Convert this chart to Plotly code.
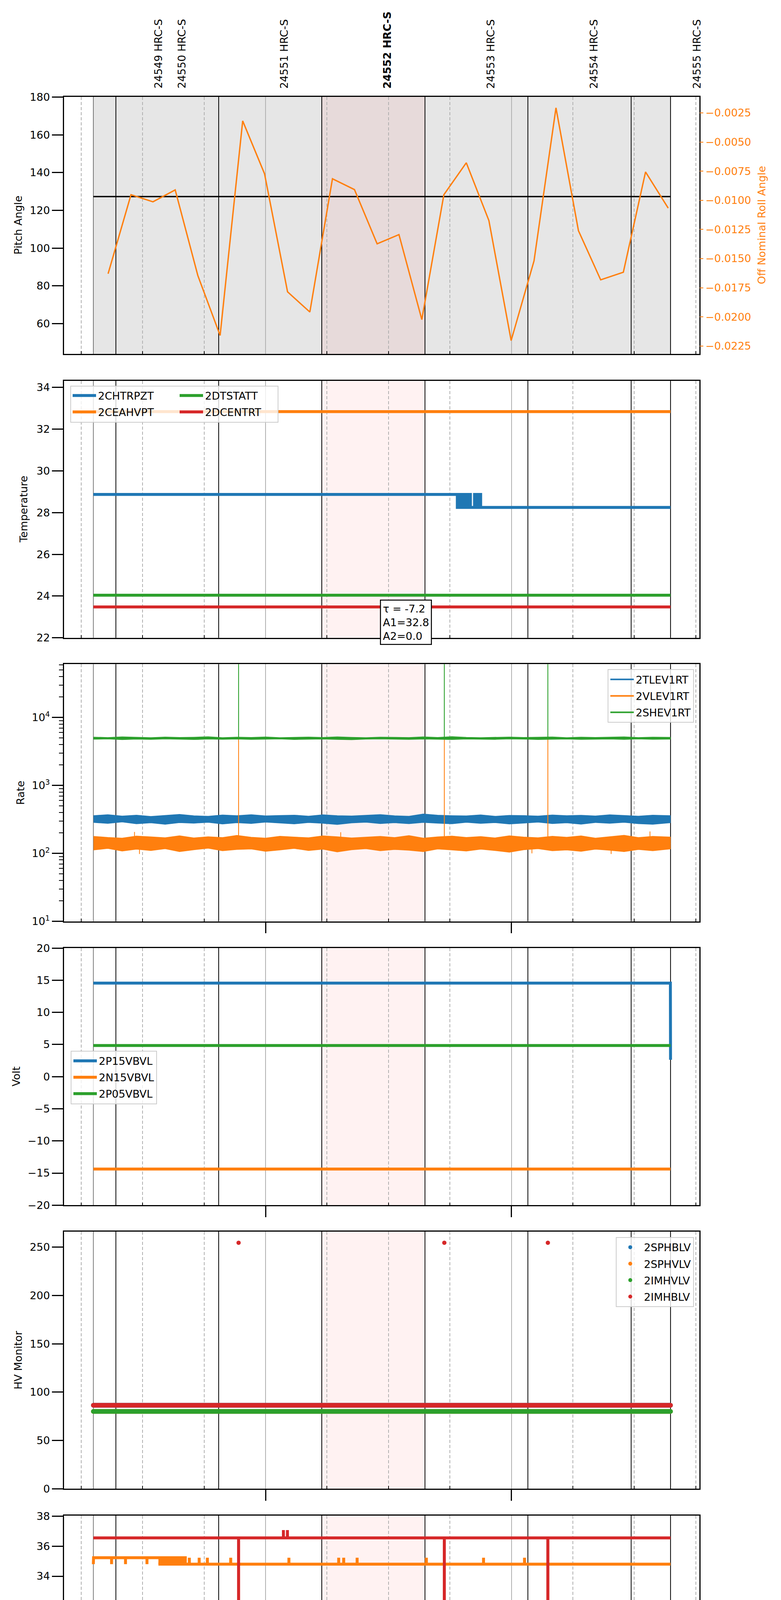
import plotly.graph_objects as go

# ------------------------------------------------------------------ data
# x values are minutes from 2021-09-09 00:00 (negative = 2021-09-08)
x_span = [-49.18, 105.88]
t_start, t_end = -42.03, 98.84
obs_edges = [-42.03, -36.53, -11.44, 13.72, 38.91, 64.02, 89.23, 98.84]
focus_span = [13.72, 38.91]
obs_label_t = [-26.15, -20.43, 4.60, 29.76, 54.93, 80.09, 105.25]
obs_label = ["24549 HRC-S", "24550 HRC-S", "24551 HRC-S", "24552 HRC-S",
             "24553 HRC-S", "24554 HRC-S", "24555 HRC-S"]
focus_obsid = "24552 HRC-S"
glitch_t = [-6.58, 43.63, 68.90]

major_t = [0, 60]
major_txt = ["00h", "01h"]
minor_t = [-45, -30, -15, 15, 30, 45, 75, 90, 105]
minor_txt = ["15", "30", "45", "15", "30", "45", "15", "30", "45"]
date_label = "2021-09-09 (252)"

# panel 1: pitch / off nominal roll
pitch_t = [t_start, t_end]
pitch = [127.3, 127.3]
roll_t = [-38.43, -32.84, -27.48, -22.05, -16.53, -11.09, -5.58, -0.25, 5.37,
          10.81, 16.33, 21.70, 27.23, 32.56, 38.14, 43.52, 48.99, 54.51, 59.94,
          65.52, 70.88, 76.36, 81.79, 87.32, 92.74, 98.27]
roll = [-0.0163, -0.00952, -0.01013, -0.00911, -0.01645, -0.02159, -0.00319,
        -0.00772, -0.01785, -0.01958, -0.00815, -0.00908, -0.01373, -0.01294,
        -0.02023, -0.00952, -0.00678, -0.01174, -0.02203, -0.0152, -0.00207,
        -0.0126, -0.01682, -0.01617, -0.00757, -0.01067]

# panel 2: temperature
chtrpzt_t = [t_start, 46.8, 47.3, 47.8, 48.3, 48.8, 49.4, 50.0, 51.0, 51.5,
             52.0, 52.5, t_end]
chtrpzt = [28.87, 28.25, 28.87, 28.25, 28.87, 28.25, 28.87, 28.25, 28.87,
           28.25, 28.87, 28.25, 28.25]
ceahvpt = 32.84
dtstatt = 24.04
dcentrt = 23.48
fit_txt = ["τ = -7.2", "A1=32.8", "A2=0.0"]

# panel 3: rates (noise envelopes)
rate_t = [-42.0, -38.5, -35.0, -31.5, -28.0, -24.5, -21.0, -17.5, -14.0, -10.5,
          -7.0, -3.5, 0.0, 3.5, 7.0, 10.5, 14.0, 17.5, 21.0, 24.5, 28.0, 31.5,
          35.0, 38.5, 42.0, 45.5, 49.0, 52.5, 56.0, 59.5, 63.0, 66.5, 70.0, 73.5,
          77.0, 80.5, 84.0, 87.5, 91.0, 94.5, 98.8]
tlev_hi = [360, 372, 355, 366, 350, 362, 375, 358, 352, 368, 360, 371, 357, 362,
           366, 354, 370, 360, 356, 364, 373, 358, 352, 380, 366, 360, 357, 369,
           352, 363, 361, 355, 368, 359, 364, 356, 370, 362, 354, 366, 360]
tlev_lo = [285, 276, 290, 272, 281, 268, 283, 278, 286, 270, 282, 275, 288, 279,
           271, 284, 277, 266, 280, 287, 274, 282, 273, 285, 278, 272, 286, 276,
           283, 270, 279, 288, 274, 281, 269, 284, 277, 286, 273, 268, 282]
vlev_hi = [178, 172, 168, 180, 175, 170, 182, 169, 176, 171, 184, 173, 168, 179,
           174, 170, 181, 176, 169, 173, 178, 171, 183, 168, 175, 180, 172, 177,
           169, 182, 174, 170, 179, 173, 181, 168, 176, 185, 171, 178, 174]
vlev_lo = [112, 118, 108, 115, 110, 117, 106, 113, 119, 109, 114, 116, 107, 112,
           118, 110, 115, 105, 113, 117, 109, 114, 111, 106, 116, 112, 108, 115,
           110, 104, 113, 117, 109, 112, 107, 115, 111, 106, 114, 109, 116]
shev_hi = [5150, 5080, 5200, 5110, 5060, 5170, 5090, 5130, 5210, 5070, 5140,
           5100, 5180, 5060, 5120, 5160, 5090, 5200, 5110, 5070, 5150, 5130,
           5080, 5190, 5100, 5230, 5110, 5060, 5140, 5170, 5090, 5120, 5180,
           5070, 5150, 5100, 5130, 5200, 5080, 5140, 5110]
shev_lo = [4780, 4830, 4720, 4800, 4760, 4840, 4790, 4730, 4810, 4770, 4820,
           4750, 4800, 4840, 4740, 4790, 4820, 4760, 4710, 4800, 4830, 4770,
           4750, 4810, 4780, 4740, 4820, 4790, 4760, 4830, 4800, 4730, 4780,
           4820, 4750, 4790, 4810, 4760, 4830, 4770, 4800]
vlev_mid = 140
vlev_spike_t = [-31.98, -30.77, 18.34, 65.01, 84.34, 93.82]
vlev_spike = [207, 98, 205, 100, 98, 210]
vlev_glitch = 4943
shev_mid = 4943
shev_glitch = 1e6

# panel 4: voltages
p15vbvl_t = [t_start, 98.80, t_end]
p15vbvl = [14.55, 14.55, 2.63]
n15vbvl = -14.38
p05vbvl = 4.85

# panel 5: HV monitors
sphblv = 86.4
sphvlv = 80.0
imhvlv = 80.0
imhblv = 86.4
imhblv_glitch = 254.6

# panel 6: detector temperatures
spinatm = 22.42
spinatm_dip_t = [32.08]
spinatm_dip = [21.66]
sphvatm_hi, sphvatm_lo = 35.23, 34.80
sphvatm_dip_t = [-37.58, -34.18, -28.94]
sphvatm_busy = [-26.15, -19.58]
sphvatm_up_t = [-18.6, -16.2, -14.2, -8.5, 5.7, 17.85, 19.07, 22.35, 39.25,
                53.2, 63.2]
iminatm = 23.15
iminatm_up_t = [23.08, 76.93, 78.4]
iminatm_up = 23.95
imhvatm = 36.55
imhvatm_up_t = [4.36, 5.34]
imhvatm_up = 37.07
imhvatm_glitch = 0.0

# panel 7: FEA temperatures
fhtrmzt = 26.40
fradpyt = 21.80
fepratm = 27.757
fepratm_glitch = 25.29
fe00atm_hi, fe00atm_lo = 25.62, 25.277
fe00atm_early_t = [-32.83, -31.86, -31.01, -24.08, -23.11]
fe00atm_early = [24.90, 25.24, 26.35, 25.24, 26.0]
fe00atm_busy = [-22.87, -11.32]
fe00atm_late_t = [-12.05, -10.71, -9.74, -8.89, -7.92, -1.96, 10.07, 11.17,
                  11.53, 21.86, 23.93, 37.55, 51.77, 52.74, 56.27, 67.21, 71.83,
                  75.96, 78.88, 87.02]
fe00atm_late = [24.57, 25.62, 25.62, 25.62, 25.62, 26.0, 24.90, 26.35, 25.66,
                25.66, 27.40, 24.90, 25.66, 25.66, 25.66, 26.0, 25.66, 24.90,
                25.66, 25.66]
fe00atm_glitch = 0.0

# ------------------------------------------------------------------ style
W, H = 2000, 5400
DX, DY = 8, 21         # offset of the plot div inside the html page
FONT = "DejaVu Sans"
BLUE, ORANGE, GREEN, RED = "#1f77b4", "#ff7f0e", "#2ca02c", "#d62728"
GRID = "#b0b0b0"
THICK = 7.5
panel_top = [246, 977, 1707, 2438, 3168, 3899, 4629]
panel_h = 662
plot_x0, plot_x1 = 164, 1791


def px_x(p):
    return (p - DX) / W


def px_y(p):
    return 1 - (p - DY) / H


def spiky(base, ev_t, ev_v, t0=t_start, t1=t_end, w=0.01):
    xs, ys = [t0], [base]
    for t, v in sorted(zip(ev_t, ev_v)):
        xs += [t - w, t, t + w]
        ys += [base, v, base]
    return xs + [t1], ys + [base]


fig = go.Figure()


def axes(panel):
    return ("x", "y") if panel == 1 else ("x%d" % panel, "y%d" % panel)


def add_line(panel, x, y, color, width, name=None, legend=None, yaxis=None,
             shape="linear"):
    xa, ya = axes(panel)
    fig.add_trace(go.Scatter(
        x=x, y=y, mode="lines", xaxis=xa, yaxis=yaxis or ya,
        line=dict(color=color, width=width, shape=shape),
        name=name or "", legend=legend or "legend", legendgroup=name,
        showlegend=legend is not None, hoverinfo="skip"))


def add_band(panel, t, hi, lo, color, width):
    xa, ya = axes(panel)
    fig.add_trace(go.Scatter(
        x=list(t) + list(t[::-1]), y=list(hi) + list(lo[::-1]),
        mode="lines", fill="toself", fillcolor=color, xaxis=xa, yaxis=ya,
        line=dict(color=color, width=width), showlegend=False,
        hoverinfo="skip"))


def add_key(panel, name, color, legend, width=THICK, marker=False):
    xa, ya = axes(panel)
    if marker:
        fig.add_trace(go.Scatter(
            x=[None], y=[None], mode="markers", xaxis=xa, yaxis=ya,
            marker=dict(color=color, size=10), name=name, legend=legend,
            legendgroup=name))
    else:
        fig.add_trace(go.Scatter(
            x=[None], y=[None], mode="lines", xaxis=xa, yaxis=ya,
            line=dict(color=color, width=width), name=name, legend=legend,
            legendgroup=name))


span = [t_start, t_end]

# panel 1
add_line(1, pitch_t, pitch, "black", 3.5)
add_line(1, roll_t, roll, ORANGE, 3.5, yaxis="y8")

# panel 2
add_line(2, chtrpzt_t, chtrpzt, BLUE, THICK, "2CHTRPZT", "legend", shape="hv")
add_line(2, span, [ceahvpt] * 2, ORANGE, THICK, "2CEAHVPT", "legend")
add_line(2, span, [dtstatt] * 2, GREEN, THICK, "2DTSTATT", "legend2")
add_line(2, span, [dcentrt] * 2, RED, THICK, "2DCENTRT", "legend2")

# panel 3
add_band(3, rate_t, tlev_hi, tlev_lo, BLUE, 1.5)
add_band(3, rate_t, vlev_hi, vlev_lo, ORANGE, 1.5)
x, y = spiky(vlev_mid, vlev_spike_t + glitch_t,
             vlev_spike + [vlev_glitch] * len(glitch_t))
add_line(3, x, y, ORANGE, 2)
add_band(3, rate_t, shev_hi, shev_lo, GREEN, 1.5)
x, y = spiky(shev_mid, glitch_t, [shev_glitch] * len(glitch_t))
add_line(3, x, y, GREEN, 2)
add_key(3, "2TLEV1RT", BLUE, "legend3", width=4)
add_key(3, "2VLEV1RT", ORANGE, "legend3", width=4)
add_key(3, "2SHEV1RT", GREEN, "legend3", width=4)

# panel 4
add_line(4, p15vbvl_t, p15vbvl, BLUE, THICK, "2P15VBVL", "legend4")
add_line(4, span, [n15vbvl] * 2, ORANGE, THICK, "2N15VBVL", "legend4")
add_line(4, span, [p05vbvl] * 2, GREEN, THICK, "2P05VBVL", "legend4")

# panel 5
for val, col in [(sphblv, BLUE), (sphvlv, ORANGE), (imhvlv, GREEN),
                 (imhblv, RED)]:
    fig.add_trace(go.Scatter(
        x=span, y=[val] * 2, mode="lines+markers", xaxis="x5", yaxis="y5",
        line=dict(color=col, width=12), marker=dict(color=col, size=12),
        showlegend=False, hoverinfo="skip"))
fig.add_trace(go.Scatter(
    x=glitch_t, y=[imhblv_glitch] * len(glitch_t), mode="markers",
    xaxis="x5", yaxis="y5", marker=dict(color=RED, size=11),
    showlegend=False, hoverinfo="skip"))
add_key(5, "2SPHBLV", BLUE, "legend5", marker=True)
add_key(5, "2SPHVLV", ORANGE, "legend5", marker=True)
add_key(5, "2IMHVLV", GREEN, "legend5", marker=True)
add_key(5, "2IMHBLV", RED, "legend5", marker=True)

# panel 6
x, y = spiky(spinatm, spinatm_dip_t, spinatm_dip)
add_line(6, x, y, BLUE, THICK, "2SPINATM", "legend6")
xa_, ya_ = spiky(sphvatm_hi, sphvatm_dip_t, [sphvatm_lo] * 3,
                 t0=t_start + 0.05, t1=sphvatm_busy[0])
xb_, yb_ = spiky(sphvatm_lo, sphvatm_up_t, [sphvatm_hi] * len(sphvatm_up_t),
                 t0=sphvatm_busy[1])
add_line(6, [t_start] + xa_ + xb_, [sphvatm_lo] + ya_ + yb_, ORANGE, THICK,
         "2SPHVATM", "legend6")
add_band(6, sphvatm_busy, [sphvatm_hi] * 2, [sphvatm_lo] * 2, ORANGE, THICK)
x, y = spiky(iminatm, iminatm_up_t, [iminatm_up] * len(iminatm_up_t))
add_line(6, x, y, GREEN, THICK, "2IMINATM", "legend6")
x, y = spiky(imhvatm, imhvatm_up_t + glitch_t,
             [imhvatm_up] * 2 + [imhvatm_glitch] * len(glitch_t))
add_line(6, x, y, RED, THICK, "2IMHVATM", "legend6")

# panel 7
add_line(7, span, [fhtrmzt] * 2, BLUE, THICK, "2FHTRMZT", "legend7")
add_line(7, span, [fradpyt] * 2, ORANGE, THICK, "2FRADPYT", "legend7")
x, y = spiky(fepratm, glitch_t, [fepratm_glitch] * len(glitch_t))
add_line(7, x, y, GREEN, THICK, "2FEPRATM", "legend7")
xa_, ya_ = spiky(fe00atm_hi, fe00atm_early_t, fe00atm_early,
                 t1=fe00atm_busy[0])
xb_, yb_ = spiky(fe00atm_lo, fe00atm_late_t + glitch_t,
                 fe00atm_late + [fe00atm_glitch] * len(glitch_t), t0=-12.3)
add_line(7, xa_ + xb_, ya_ + yb_, RED, THICK, "2FE00ATM", "legend7")
add_band(7, fe00atm_busy, [fe00atm_hi] * 2, [fe00atm_lo] * 2, RED, THICK)

# ------------------------------------------------------------------ layout
y_titles = ["Pitch Angle", "Temperature", "Rate", "Volt", "HV Monitor",
            "Detector Temp", "FEA Temp"]
y_title_x = [47, 61, 52, 41, 46, 64, 61]
y_ranges = [[44.0, 180.2], [22.0, 34.325], [1, 4.785], [-20, 20], [0, 266.1],
            [20.93, 38.036], [20.31, 29.26]]
y_ticks = [list(range(60, 181, 20)), list(range(22, 35, 2)),
           [10, 100, 1000, 10000], list(range(-20, 21, 5)),
           list(range(0, 251, 50)), list(range(22, 39, 2)), list(range(21, 30))]
roll_range = [-0.02317, -0.00112]
roll_ticks = [-0.0025, -0.005, -0.0075, -0.01, -0.0125, -0.015, -0.0175,
              -0.02, -0.0225]

layout = dict(width=W, height=H, margin=dict(l=0, r=0, t=0, b=0),
              paper_bgcolor="white", plot_bgcolor="white",
              font=dict(family=FONT, size=27, color="black"),
              hovermode=False)

for p in range(1, 8):
    top = panel_top[p - 1]
    sfx = "" if p == 1 else str(p)
    layout["xaxis" + sfx] = dict(
        domain=[px_x(plot_x0), px_x(plot_x1)], range=x_span, anchor="y" + sfx,
        showline=True, linecolor="black", linewidth=2.5, mirror=True,
        tickmode="array", tickvals=major_t, ticktext=major_txt,
        showticklabels=(p == 7), ticks="outside" if p >= 3 else "",
        ticklen=28, tickwidth=2.5, tickcolor="black",
        tickfont=dict(size=27), ticklabelstandoff=10,
        showgrid=True, gridcolor=GRID, gridwidth=1.5, zeroline=False,
        minor=dict(tickmode="array", tickvals=minor_t, ticks="inside",
                   ticklen=7, tickwidth=2, tickcolor="black", showgrid=True,
                   gridcolor=GRID, gridwidth=1.5, griddash="8px,5px"))
    ya = dict(
        domain=[px_y(top + panel_h), px_y(top)], anchor="x" + sfx,
        range=y_ranges[p - 1], tickmode="array", tickvals=y_ticks[p - 1],
        showline=True, linecolor="black", linewidth=2.5, mirror=True,
        ticks="outside", ticklen=28, tickwidth=2.5, tickcolor="black",
        tickfont=dict(size=27), showgrid=False, zeroline=False)
    if p == 3:
        ya.update(type="log",
                  ticktext=["10<sup>1</sup>", "10<sup>2</sup>",
                            "10<sup>3</sup>", "10<sup>4</sup>"],
                  minor=dict(tickmode="array",
                             tickvals=[k * 10 ** e for e in range(1, 5)
                                       for k in range(2, 10)],
                             ticks="outside", ticklen=10, tickwidth=2,
                             tickcolor="black", showgrid=False))
    layout["yaxis" + sfx] = ya

layout["yaxis8"] = dict(
    overlaying="y", side="right", anchor="x", range=roll_range,
    tickmode="array", tickvals=roll_ticks, tickformat=".4f",
    ticks="outside", ticklen=9, tickwidth=2, tickcolor=ORANGE,
    tickfont=dict(size=27, color=ORANGE), showline=False, showgrid=False,
    zeroline=False)


def legend_cfg(x, y, xanchor="left", yanchor="top", boxed=True):
    return dict(x=px_x(x), y=px_y(y), xanchor=xanchor, yanchor=yanchor,
                bgcolor="rgba(255,255,255,0.8)" if boxed else "rgba(0,0,0,0)",
                bordercolor="#cccccc", borderwidth=2 if boxed else 0,
                font=dict(family=FONT, size=27, color="black"),
                itemwidth=60, tracegroupgap=4)


layout["legend"] = legend_cfg(181, 991, boxed=False)
layout["legend2"] = legend_cfg(455, 991, boxed=False)
layout["legend3"] = legend_cfg(1777, 1720, xanchor="right")
layout["legend4"] = legend_cfg(181, 2702)
layout["legend5"] = legend_cfg(1777, 3182, xanchor="right")
layout["legend6"] = legend_cfg(1777, 4142, xanchor="right")
layout["legend7"] = legend_cfg(181, 5277, yanchor="bottom")

shapes = [dict(type="rect", xref="x", yref="y domain", x0=t_start, x1=t_end,
               y0=0, y1=1, fillcolor="rgba(128,128,128,0.2)",
               line=dict(width=0), layer="below")]
for p in range(1, 8):
    xa, ya = axes(p)
    shapes.append(dict(type="rect", xref=xa, yref=ya + " domain",
                       x0=focus_span[0], x1=focus_span[1], y0=0, y1=1,
                       fillcolor="rgba(255,0,0,0.05)", line=dict(width=0),
                       layer="below"))
    for k, t in enumerate(obs_edges):
        shapes.append(dict(type="line", xref=xa, yref=ya + " domain",
                           x0=t, x1=t, y0=0, y1=1, layer="below",
                           line=dict(color="black",
                                     width=1 if k == 0 else 2)))
shapes.append(dict(type="rect", xref="paper", yref="paper",
                   x0=px_x(181), x1=px_x(712), y0=px_y(1084), y1=px_y(991),
                   fillcolor="rgba(255,255,255,0.8)",
                   line=dict(color="#cccccc", width=2), layer="above"))
layout["shapes"] = shapes

ann = []
for p in range(1, 8):
    ann.append(dict(text=y_titles[p - 1], xref="paper", yref="paper",
                    x=px_x(y_title_x[p - 1]),
                    y=px_y(panel_top[p - 1] + panel_h / 2),
                    xanchor="center", yanchor="middle",
                    textangle=-90, showarrow=False, font=dict(size=27)))
ann.append(dict(text="Off Nominal Roll Angle", xref="paper", yref="paper",
                x=px_x(1951), y=px_y(panel_top[0] + panel_h / 2),
                xanchor="center", yanchor="middle",
                textangle=-90, showarrow=False,
                font=dict(size=27, color=ORANGE)))
for t, lab in zip(obs_label_t, obs_label):
    ann.append(dict(text="<b>%s</b>" % lab if lab == focus_obsid else lab,
                    xref="x", yref="paper", x=t, y=px_y(227),
                    xanchor="center", yanchor="bottom", textangle=-90,
                    showarrow=False, font=dict(size=27)))
ann.append(dict(text="<br>".join(fit_txt), xref="paper", yref="paper",
                x=px_x(1039.5), y=px_y(1598.7), xanchor="center",
                yanchor="middle", align="left",
                showarrow=False, bgcolor="white", bordercolor="black",
                borderwidth=2.5, borderpad=5, font=dict(size=27)))
for t, lab in zip(minor_t, minor_txt):
    ann.append(dict(text=lab, xref="x7", yref="paper", x=t, y=px_y(5305),
                    xanchor="center", yanchor="middle",
                    showarrow=False, font=dict(size=17)))
ann.append(dict(text=date_label, xref="paper", yref="paper",
                x=px_x((plot_x0 + plot_x1) / 2), y=px_y(5384),
                xanchor="center", yanchor="middle",
                showarrow=False, font=dict(size=33)))
layout["annotations"] = ann

fig.update_layout(**layout)
fig.write_html("out.html")
